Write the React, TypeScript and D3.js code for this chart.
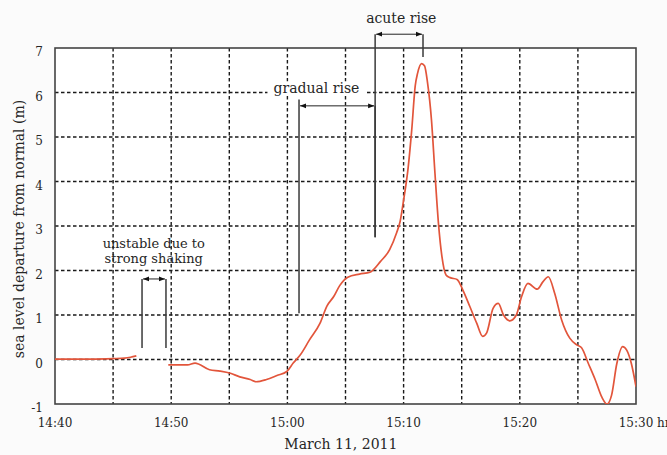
import React from "react";
import * as d3 from "d3";

// Canvas
const W = 667;
const H = 455;
const margin = { top: 48, right: 31, bottom: 51, left: 55 };
const innerW = W - margin.left - margin.right;
const innerH = H - margin.top - margin.bottom;

// Data: minutes after 14:40 on March 11, 2011, sea level departure in m
const beforeTimes = [0, 3, 5, 6, 6.5, 7.0];
const beforeLevels = [0.01, 0.01, 0.02, 0.03, 0.05, 0.08];

const afterTimes = [
  9.75, 11.4, 12.05, 13.3, 14.2, 15.1, 15.9, 16.8, 17.3, 18.2, 19.1, 19.95,
  20.5, 21.1, 21.9, 22.8, 23.4, 24.0, 24.5, 25.2, 26.2, 27.1, 28.0, 28.8,
  29.4, 29.7, 30.0, 30.4, 30.7, 31.0, 31.2, 31.55, 31.8, 32.05, 32.4, 32.7,
  33.0, 33.3, 33.65, 34.0, 34.6, 35.1, 35.7, 36.3, 36.8, 37.15, 37.7, 38.15,
  38.6, 39.15, 39.7, 40.15, 40.7, 41.5, 42.0, 42.45, 43.0, 43.6, 44.3, 44.9,
  45.3, 45.9, 46.5, 47.05, 47.5, 47.9, 48.35, 48.85, 49.2, 49.6, 50.0,
];
const afterLevels = [
  -0.12, -0.12, -0.08, -0.23, -0.26, -0.31, -0.39, -0.45, -0.5, -0.45, -0.36,
  -0.27, -0.08, 0.1, 0.44, 0.81, 1.2, 1.42, 1.66, 1.85, 1.92, 1.96, 2.2, 2.47,
  2.85, 3.1, 3.58, 4.33, 5.16, 6.15, 6.43, 6.65, 6.6, 6.24, 5.38, 4.18, 3.06,
  2.31, 1.9, 1.84, 1.8, 1.56, 1.19, 0.81, 0.52, 0.6, 1.15, 1.26, 1.0, 0.87,
  1.0, 1.41, 1.71, 1.58, 1.75, 1.86, 1.49, 0.89, 0.48, 0.33, 0.27, -0.09,
  -0.46, -0.84, -1.0, -0.8, -0.09, 0.29, 0.21, -0.09, -0.61,
];

// Axes
const gridMinutes = [0, 5, 10, 15, 20, 25, 30, 35, 40, 45, 50];
const labelMinutes = [0, 10, 20, 30, 40, 50];
const tickLabels = ["14:40", "14:50", "15:00", "15:10", "15:20", "15:30"];
const levelTicks = [-1, 0, 1, 2, 3, 4, 5, 6, 7];

// Annotations (time in minutes after 14:40, level in m)
const annotations = [
  {
    lines: ["unstable due to", "strong shaking"],
    from: 7.49, to: 9.55, arrowAt: 1.81,
    fromBottom: 0.26, toBottom: 0.26,
    labelAt: 8.5, labelLevel: 2.5,
  },
  {
    lines: ["gradual rise"],
    from: 21.0, to: 27.55, arrowAt: 5.7,
    fromBottom: 1.04, toBottom: 2.75, fromTop: 5.84,
    labelAt: 22.5, labelLevel: 6.0,
  },
  {
    lines: ["acute rise"],
    from: 27.55, to: 31.67, arrowAt: 7.31,
    fromBottom: 2.75, toBottom: 6.8,
    labelAt: 29.8, labelLevel: 7.56,
  },
];

const font = "'DejaVu Serif', serif";
const ink = "#262626";
const red = "#e2553b";

export default function App() {
  const x = d3.scaleLinear().domain([0, 50]).range([0, innerW]);
  const y = d3.scaleLinear().domain([-1, 7]).range([innerH, 0]);

  const beforePath = d3
    .line<number>()
    .x((d) => x(d))
    .y((_, i) => y(beforeLevels[i]))
    .curve(d3.curveMonotoneX)(beforeTimes);
  const afterPath = d3
    .line<number>()
    .x((d) => x(d))
    .y((_, i) => y(afterLevels[i]))
    .curve(d3.curveMonotoneX)(afterTimes);

  return (
    <div style={{ position: "absolute", left: 0, top: 0 }}>
      <svg width={W} height={H} style={{ display: "block", background: "#fbfbfb" }}>
        <defs>
          <marker id="ah" viewBox="0 0 10 10" refX="10" refY="5" markerWidth="6" markerHeight="6" orient="auto-start-reverse" markerUnits="userSpaceOnUse">
            <path d="M0,1 L10,5 L0,9 Z" fill="#111" />
          </marker>
          <clipPath id="plot">
            <rect x={0} y={0} width={innerW} height={innerH} />
          </clipPath>
        </defs>
        <g transform={`translate(${margin.left},${margin.top})`} fontFamily={font}>
          <rect x={0} y={0} width={innerW} height={innerH} fill="#fff" />
          {/* Gridlines */}
          {gridMinutes.slice(1, -1).map((m) => (
            <line key={`gx${m}`} x1={x(m)} x2={x(m)} y1={0} y2={innerH} stroke="#1a1a1a" strokeWidth={1.4} strokeDasharray="3.5,2.5" />
          ))}
          {levelTicks.slice(1, -1).map((v) => (
            <line key={`gy${v}`} x1={0} x2={innerW} y1={y(v)} y2={y(v)} stroke="#1a1a1a" strokeWidth={1.4} strokeDasharray="3.5,2.5" />
          ))}
          <rect x={0} y={0} width={innerW} height={innerH} fill="none" stroke="#444" strokeWidth={1.6} />

          {/* Y tick labels */}
          {levelTicks.map((v) => (
            <text key={`ty${v}`} x={-12} y={y(v) + 8} textAnchor="end" fontSize={12} fill={ink}>
              {v}
            </text>
          ))}
          {/* X tick labels */}
          {labelMinutes.map((m, i) => (
            <text key={`tx${m}`} x={x(m)} y={innerH + 23} textAnchor="middle" fontSize={12} fill={ink}>
              {tickLabels[i]}
            </text>
          ))}
          <text x={x(50) + 21} y={innerH + 23} fontSize={12} fill={ink}>hr</text>

          {/* Axis titles */}
          <text transform={`translate(${-31},${innerH / 2 + 3}) rotate(-90)`} textAnchor="middle" fontSize={14} fill={ink}>
            sea level departure from normal (m)
          </text>
          <text x={x(24.6)} y={innerH + 45} textAnchor="middle" fontSize={14} fill={ink}>
            March 11, 2011
          </text>

          {/* Sea level */}
          <g clipPath="url(#plot)">
            <path d={beforePath ?? ""} fill="none" stroke={red} strokeWidth={1.7} />
            <path d={afterPath ?? ""} fill="none" stroke={red} strokeWidth={1.7} />
          </g>

          {/* Annotations */}
          {annotations.map((a, i) => (
            <g key={`an${i}`}>
              <line x1={x(a.from)} x2={x(a.from)} y1={y(a.fromTop ?? a.arrowAt)} y2={y(a.fromBottom)} stroke="#3a3a3a" strokeWidth={1.5} />
              <line x1={x(a.to)} x2={x(a.to)} y1={y(a.arrowAt)} y2={y(a.toBottom)} stroke="#3a3a3a" strokeWidth={1.5} />
              <line x1={x(a.from) + 1} x2={x(a.to) - 1} y1={y(a.arrowAt)} y2={y(a.arrowAt)} stroke="#222" strokeWidth={1} markerStart="url(#ah)" markerEnd="url(#ah)" />
              {a.lines.length === 1 && i === 1 && (
                <rect x={x(a.labelAt) - 49} y={y(a.labelLevel) - 11} width={98} height={14} fill="#fff" />
              )}
              {a.lines.map((t, j) => (
                <text key={j} x={x(a.labelAt)} y={y(a.labelLevel) + j * 15} textAnchor="middle" fontSize={a.lines.length > 1 ? 13 : 14} fill={ink}>
                  {t}
                </text>
              ))}
            </g>
          ))}
        </g>
      </svg>
    </div>
  );
}
